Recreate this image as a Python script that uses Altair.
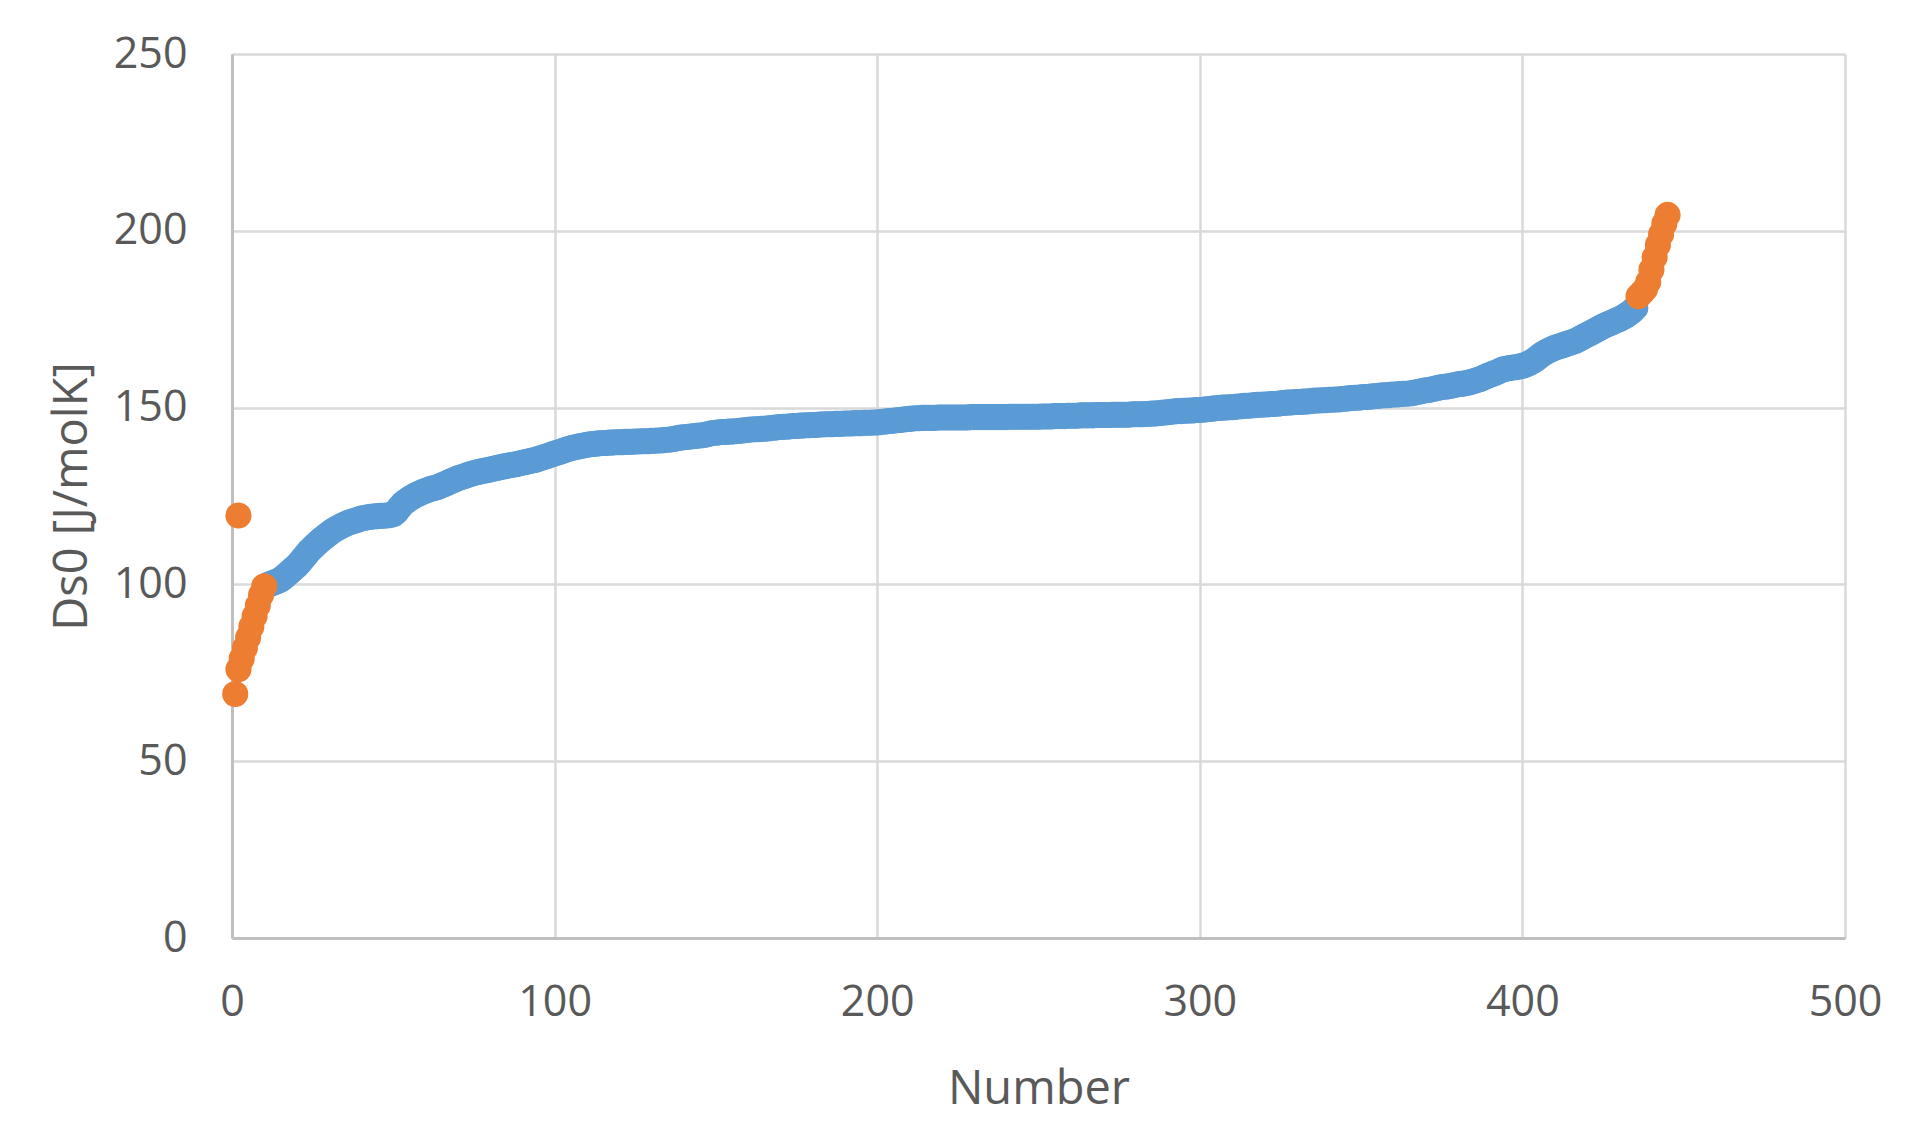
import altair as alt
import pandas as pd

# Blue series: Number 11..435
blue_start = 11
blue_values = [
    99.8, 100.2, 100.5, 100.9, 101.3, 102.0, 102.8, 103.6, 104.4, 105.2,
    106.2, 107.3, 108.4, 109.5, 110.4, 111.3, 112.1, 112.9, 113.6, 114.3,
    115.0, 115.6, 116.1, 116.6, 117.0, 117.4, 117.7, 118.0, 118.3, 118.6,
    118.8, 119.0, 119.1, 119.2, 119.3, 119.4, 119.4, 119.5, 119.6, 119.8,
    120.6, 121.8, 122.9, 123.6, 124.2, 124.8, 125.3, 125.7, 126.1, 126.5,
    126.8, 127.1, 127.3, 127.6, 128.0, 128.4, 128.8, 129.2, 129.6, 130.0,
    130.3, 130.6, 130.9, 131.2, 131.5, 131.7, 131.9, 132.1, 132.3, 132.5,
    132.7, 132.9, 133.1, 133.3, 133.5, 133.7, 133.8, 134.0, 134.2, 134.4,
    134.6, 134.8, 135.0, 135.2, 135.5, 135.8, 136.1, 136.4, 136.7, 137.0,
    137.3, 137.6, 137.9, 138.2, 138.5, 138.7, 138.9, 139.1, 139.3, 139.5,
    139.6, 139.7, 139.8, 139.9, 140.0, 140.0, 140.1, 140.1, 140.2, 140.2,
    140.2, 140.3, 140.3, 140.3, 140.4, 140.4, 140.5, 140.5, 140.5, 140.6,
    140.6, 140.7, 140.7, 140.8, 140.9, 141.0, 141.2, 141.3, 141.5, 141.6,
    141.7, 141.8, 141.9, 142.0, 142.1, 142.2, 142.4, 142.6, 142.8, 142.9,
    143.0, 143.1, 143.1, 143.2, 143.2, 143.3, 143.4, 143.5, 143.6, 143.7,
    143.8, 143.9, 143.9, 144.0, 144.0, 144.1, 144.2, 144.3, 144.4, 144.5,
    144.6, 144.6, 144.7, 144.8, 144.8, 144.9, 144.9, 145.0, 145.0, 145.1,
    145.1, 145.2, 145.2, 145.3, 145.3, 145.3, 145.4, 145.4, 145.4, 145.5,
    145.5, 145.5, 145.6, 145.6, 145.6, 145.7, 145.7, 145.7, 145.8, 145.8,
    145.9, 146.0, 146.1, 146.2, 146.3, 146.4, 146.5, 146.6, 146.7, 146.8,
    146.9, 147.0, 147.0, 147.1, 147.1, 147.1, 147.1, 147.1, 147.2, 147.2,
    147.2, 147.2, 147.2, 147.2, 147.2, 147.2, 147.2, 147.2, 147.3, 147.3,
    147.3, 147.3, 147.3, 147.3, 147.3, 147.3, 147.3, 147.3, 147.3, 147.3,
    147.4, 147.4, 147.4, 147.4, 147.4, 147.4, 147.4, 147.4, 147.4, 147.4,
    147.5, 147.5, 147.5, 147.5, 147.6, 147.6, 147.6, 147.6, 147.7, 147.7,
    147.7, 147.7, 147.8, 147.8, 147.8, 147.8, 147.8, 147.9, 147.9, 147.9,
    147.9, 147.9, 148.0, 148.0, 148.0, 148.0, 148.0, 148.0, 148.1, 148.1,
    148.1, 148.1, 148.2, 148.2, 148.3, 148.3, 148.4, 148.5, 148.6, 148.7,
    148.8, 148.9, 149.0, 149.0, 149.1, 149.1, 149.2, 149.2, 149.3, 149.3,
    149.4, 149.5, 149.6, 149.7, 149.8, 149.9, 150.0, 150.0, 150.1, 150.1,
    150.2, 150.3, 150.4, 150.5, 150.5, 150.6, 150.7, 150.8, 150.8, 150.9,
    150.9, 151.0, 151.0, 151.1, 151.2, 151.3, 151.4, 151.4, 151.5, 151.6,
    151.6, 151.7, 151.7, 151.8, 151.9, 152.0, 152.0, 152.1, 152.1, 152.2,
    152.2, 152.3, 152.3, 152.4, 152.5, 152.6, 152.7, 152.8, 152.8, 152.9,
    153.0, 153.0, 153.1, 153.2, 153.3, 153.4, 153.5, 153.5, 153.6, 153.7,
    153.7, 153.8, 153.9, 153.9, 154.0, 154.1, 154.3, 154.5, 154.7, 154.9,
    155.0, 155.2, 155.4, 155.6, 155.8, 155.9, 156.0, 156.2, 156.4, 156.6,
    156.7, 156.8, 157.0, 157.2, 157.5, 157.8, 158.1, 158.5, 158.9, 159.3,
    159.6, 160.0, 160.4, 160.8, 161.0, 161.2, 161.3, 161.4, 161.6, 161.8,
    162.1, 162.5, 163.0, 163.6, 164.3, 165.0, 165.6, 166.1, 166.5, 166.9,
    167.2, 167.5, 167.8, 168.1, 168.4, 168.7, 169.1, 169.6, 170.1, 170.6,
    171.0, 171.5, 172.0, 172.5, 173.0, 173.4, 173.8, 174.2, 174.6, 175.0,
    175.5, 176.0, 176.6, 177.3, 178.2,
]

# Orange series (outliers): numbers and values
orange_numbers = [1, 2, 2, 3, 4, 5, 6, 7, 8, 9, 10,
                  436, 437, 438, 439, 440, 441, 442, 443, 444, 445]
orange_values = [69.0, 119.5, 76.0, 79.0, 82.0, 85.0, 88.0, 91.0, 94.0, 97.0, 99.5,
                 181.5, 182.5, 183.5, 185.5, 189.0, 192.5, 196.0, 199.0, 202.0, 204.5]

blue_df = pd.DataFrame({
    "Number": list(range(blue_start, blue_start + len(blue_values))),
    "Value": blue_values,
})
orange_df = pd.DataFrame({"Number": orange_numbers, "Value": orange_values})

FONT = "Open Sans"
GREY = "#595959"

x_enc = alt.X(
    "Number:Q",
    scale=alt.Scale(domain=[0, 500], nice=False, zero=False),
    axis=alt.Axis(
        title="Number", values=[0, 100, 200, 300, 400, 500], format="d",
        ticks=False, domain=True, domainColor="#bfbfbf", domainWidth=3,
        grid=True, gridColor="#d9d9d9", gridWidth=2.5,
        labelFont=FONT, labelFontSize=43, labelColor=GREY,
        labelPadding=77, labelBaseline="alphabetic", labelFlush=False,
        titleFont=FONT, titleFontSize=47, titleColor=GREY, titleFontWeight="normal",
        titleX=806.5, titleY=165, titleBaseline="alphabetic", titleAlign="center",
    ),
)
y_enc = alt.Y(
    "Value:Q",
    scale=alt.Scale(domain=[0, 250], nice=False, zero=False),
    axis=alt.Axis(
        title="Ds0 [J/molK]", values=[0, 50, 100, 150, 200, 250], format="d",
        ticks=False, domain=True, domainColor="#bfbfbf", domainWidth=3,
        grid=True, gridColor="#d9d9d9", gridWidth=2.5,
        labelFont=FONT, labelFontSize=43, labelColor=GREY,
        labelPadding=45, labelFlush=False,
        titleFont=FONT, titleFontSize=47, titleColor=GREY, titleFontWeight="normal",
        titleX=-146, titleY=442, titleAngle=-90, titleBaseline="alphabetic",
        titleAlign="center",
    ),
)

blue = alt.Chart(blue_df).mark_circle(size=680, opacity=1, color="#5b9bd5").encode(
    x=x_enc, y=y_enc
)
orange = alt.Chart(orange_df).mark_circle(size=680, opacity=1, color="#ed7d31").encode(
    x="Number:Q", y="Value:Q"
)

chart = (
    alt.layer(blue, orange)
    .properties(
        width=1613, height=884,
        autosize=alt.AutoSizeParams(type="none"),
        padding={"left": 224, "top": 46, "right": 50, "bottom": 190},
        background="white",
    )
    .configure_view(stroke=None)
)

chart.save("out.html", embed_options={"renderer": "svg", "actions": False})
